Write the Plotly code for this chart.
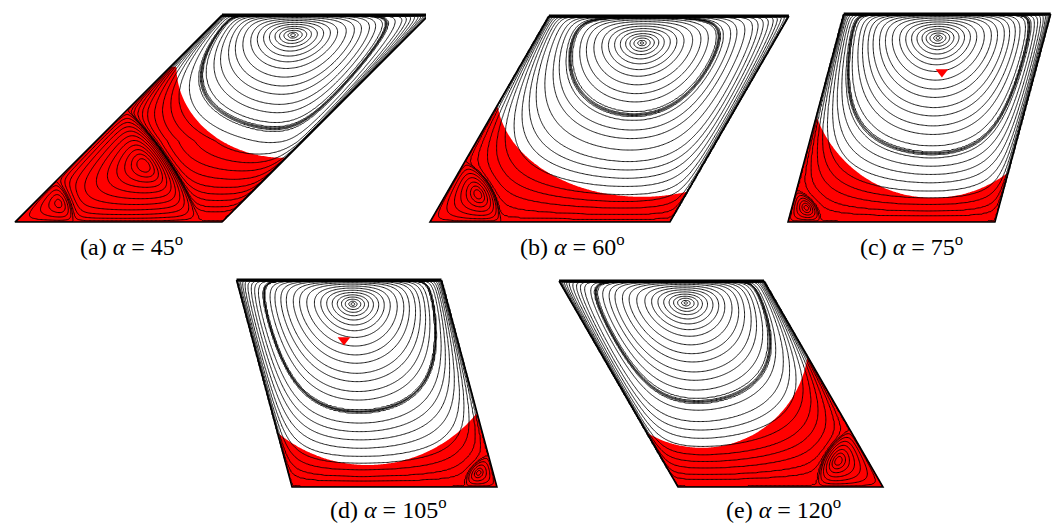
import numpy as np
import plotly.graph_objects as go

FIG_W, FIG_H = 1057, 523

# ---- cavity geometry -------------------------------------------------------
angles = [45, 60, 75, 105, 120]          # inclination of the side walls (deg)
captions = ["(a)", "(b)", "(c)", "(d)", "(e)"]
aspect = [1.0, 1.165, 0.995, 0.99, 0.995]  # cavity width / cavity height

# ---- primary vortex ----------------------------------------------------------
# centre: fraction of the width along the skewed axis, fraction of the height
primary_s = [0.44, 0.453, 0.486, 0.537, 0.557]
primary_t = [0.903, 0.869, 0.885, 0.884, 0.893]
# depth below the primary centre (fraction of height) where each drawn
# streamline crosses the vertical through the centre
streamline_depths = [0.005, 0.013, 0.026, 0.04, 0.056, 0.077, 0.101, 0.129,
                     0.161, 0.203, 0.246, 0.286, 0.335, 0.375, 0.423, 0.464,
                     0.52, 0.576, 0.617, 0.657, 0.697, 0.737, 0.770, 0.802,
                     0.834, 0.858]
# depth of the tight bundle of streamlines in each cavity
bundle_depth = [0.45, 0.35, 0.555, 0.52, 0.48]

# ---- corner eddies -------------------------------------------------------------
# separating circle of the secondary eddy (centre x, centre y, radius),
# in cavity-height units measured from the bottom-left corner
eddy_x = [-0.54, 0.0, 0.0, 0.99, 0.995]
eddy_y = [-0.55, 0.0, 0.0, 0.0, 0.0]
eddy_r = [1.536, 0.34, 0.155, 0.155, 0.32]
# streamline values inside each secondary eddy (fraction of its strength)
eddy_levels = [
    [0.03, 0.1, 0.2, 0.32, 0.45, 0.58, 0.7, 0.8, 0.88, 0.94, 0.98],
    [0.05, 0.2, 0.4, 0.6, 0.78, 0.9, 0.97],
    [0.05, 0.25, 0.5, 0.72, 0.88, 0.97],
    [0.08, 0.35, 0.65, 0.88, 0.97],
    [0.05, 0.2, 0.4, 0.6, 0.78, 0.9, 0.97],
]
# tertiary eddy nested in the corner
inner_eddy_x = [0.0, 0.0, 0.0, 0.0, 0.0]
inner_eddy_y = [0.0, 0.0, 0.0, 0.0, 0.0]
inner_eddy_r = [0.28, 0.0, 0.0, 0.0, 0.0]
inner_eddy_levels = [0.15, 0.45, 0.75, 0.95]

# ---- dyed fluid -----------------------------------------------------------------
# red region: below the centre of, and outside, an ellipse
dye_x = [1.30, 1.029, 0.697, 0.365, 0.115]
dye_y = [0.75, 0.617, 0.712, 0.787, 0.709]
dye_rx = [0.52, 0.704, 0.596, 0.681, 0.519]
dye_ry = [0.44, 0.495, 0.596, 0.681, 0.519]
# small dyed patch near the core
spot_x = [None, None, 0.740, 0.251, None]
spot_y = [None, None, 0.721, 0.710, None]

# ---- placement on the page (pixels) -------------------------------------------------
panel_origin = [(15, 222), (430, 222), (788, 222), (292, 487), (678, 487)]
panel_height = [207, 206, 208, 207, 206]
caption_pos = [(131, 245), (572, 245), (911, 245), (388, 508), (783, 508)]
PAD = 4

RES = 160          # grid points per cavity height
LID_EXP = 0.5
SIDE_EXP = 4.5
KAPPA = 0.8
SEP_W = 0.06
INNER_W = 0.04


def cavity_fields(i):
    cot = 1.0 / np.tan(np.radians(angles[i]))
    wr = aspect[i]
    xmin, xmax = min(0.0, cot), max(wr, wr + cot)
    nx = int(round((xmax - xmin) * RES)) + 1
    xs = np.linspace(xmin, xmax, nx)
    ys = np.linspace(0.0, 1.0, RES + 1)
    X, Y = np.meshgrid(xs, ys)
    s = (X - Y * cot) / wr
    inside = (s >= 0.0) & (s <= 1.0)
    s = np.clip(s, 0.0, 1.0)
    t = Y

    tc = primary_t[i]
    m = LID_EXP * tc / (1.0 - tc)

    def g(tt):
        return (tt / tc) ** m * ((1.0 - tt) / (1.0 - tc)) ** LID_EXP

    p = np.clip(primary_s[i] + KAPPA * (tc - t) * cot / wr, 0.15, 0.85)
    f = (s / p) ** (SIDE_EXP * p) * ((1.0 - s) / (1.0 - p)) ** (SIDE_EXP * (1.0 - p))
    P = f * g(t)

    phi2 = np.tanh((np.hypot(X - eddy_x[i], Y - eddy_y[i]) - eddy_r[i]) / SEP_W)
    d3 = np.hypot(X - inner_eddy_x[i], Y - inner_eddy_y[i])
    if inner_eddy_r[i] > 0:
        phi3 = np.tanh((d3 - inner_eddy_r[i]) / INNER_W)
    else:
        phi3 = np.ones_like(X)
    Q = s * (1 - s) * t * (1 - t)

    prim = phi2 > 0
    tert = (~prim) & (d3 < inner_eddy_r[i])
    sec = (~prim) & (~tert)
    psi = np.where(prim, P * phi2, Q * phi2 * phi3)
    psi = np.where(inside, psi, 0.0)

    # primary streamline values from the crossing depths
    pmax = psi[prim & inside].max()
    depths = set(streamline_depths)
    for dd in (-0.006, -0.002, 0.002, 0.006):
        depths.add(bundle_depth[i] + dd)
    depths = np.array(sorted(d for d in depths if d < tc - 0.01))
    lev_p = np.unique(pmax * g(tc - depths))
    zp = np.interp(psi, np.concatenate([[0.0], lev_p, [pmax * 1.0001]]),
                   np.arange(len(lev_p) + 2))
    n_top = len(lev_p)

    smag = -psi[sec & inside].min()
    lev_s = smag * np.array(eddy_levels[i])
    zs = -np.interp(-psi, np.concatenate([[0.0], lev_s, [smag * 1.0001]]),
                    np.arange(len(lev_s) + 2))
    n_bot = len(lev_s)

    zt = np.zeros_like(psi)
    if np.any(tert & inside):
        tmax = psi[tert & inside].max()
        lev_t = tmax * np.array(inner_eddy_levels)
        zt = np.interp(psi, np.concatenate([[0.0], lev_t, [tmax * 1.0001]]),
                       np.arange(len(lev_t) + 2))
        n_top = max(n_top, len(lev_t))

    Z = np.where(prim, zp, np.where(tert, zt, zs))
    Z = np.where(inside, Z, -0.5)

    # positive inside the dyed region
    ell = ((X - dye_x[i]) / dye_rx[i]) ** 2 + ((Y - dye_y[i]) / dye_ry[i]) ** 2 - 1.0
    R = np.minimum(ell, 4.0 * (dye_y[i] - Y))
    R = np.where(inside, R, -1.0)

    return xs, ys, np.round(Z, 3), np.round(R, 3), n_bot, n_top, cot, xmin, xmax


fig = go.Figure()
layout_axes = {}

for i in range(len(angles)):
    xs, ys, Z, R, n_bot, n_top, cot, xmin, xmax = cavity_fields(i)
    xa = "x" if i == 0 else f"x{i + 1}"
    ya = "y" if i == 0 else f"y{i + 1}"
    wr = aspect[i]

    # constraint contours shade the region that violates "R < 0", i.e. R >= 0
    fig.add_trace(go.Contour(
        x=xs, y=ys, z=R, xaxis=xa, yaxis=ya,
        contours=dict(type="constraint", operation="<", value=0),
        fillcolor="#ff0000", line=dict(width=0),
        showscale=False, hoverinfo="skip"))

    fig.add_trace(go.Contour(
        x=xs, y=ys, z=Z, xaxis=xa, yaxis=ya,
        contours=dict(start=-n_bot, end=n_top, size=1, coloring="none"),
        line=dict(color="black", width=0.9, smoothing=0.8),
        showscale=False, hoverinfo="skip"))

    # walls: bottom and sides, then the lid
    fig.add_trace(go.Scatter(
        x=[cot, 0.0, wr, wr + cot], y=[1.0, 0.0, 0.0, 1.0],
        xaxis=xa, yaxis=ya, mode="lines",
        line=dict(color="black", width=1.6), hoverinfo="skip"))
    fig.add_trace(go.Scatter(
        x=[cot, wr + cot], y=[1.0, 1.0], xaxis=xa, yaxis=ya, mode="lines",
        line=dict(color="black", width=3), hoverinfo="skip"))

    if spot_x[i] is not None:
        fig.add_trace(go.Scatter(
            x=[spot_x[i]], y=[spot_y[i]], xaxis=xa, yaxis=ya, mode="markers",
            marker=dict(symbol="triangle-down", size=11, color="#ff0000",
                        line=dict(width=0)),
            hoverinfo="skip"))

    bx, by = panel_origin[i]
    hp = panel_height[i]
    dom_x = [(bx + xmin * hp - PAD) / FIG_W, (bx + xmax * hp + PAD) / FIG_W]
    dom_y = [(FIG_H - (by + PAD)) / FIG_H, (FIG_H - (by - hp - PAD)) / FIG_H]
    key_x = "xaxis" if i == 0 else f"xaxis{i + 1}"
    key_y = "yaxis" if i == 0 else f"yaxis{i + 1}"
    layout_axes[key_x] = dict(domain=dom_x, range=[xmin - PAD / hp, xmax + PAD / hp],
                              visible=False, fixedrange=True, anchor=ya)
    layout_axes[key_y] = dict(domain=dom_y, range=[-PAD / hp, 1 + PAD / hp],
                              visible=False, fixedrange=True, anchor=xa)

annotations = []
for i in range(len(angles)):
    cx, cy = caption_pos[i]
    annotations.append(dict(
        x=cx / FIG_W, y=1 - cy / FIG_H, xref="paper", yref="paper",
        xanchor="center", yanchor="middle", showarrow=False,
        text=f"{captions[i]} <i>α</i> = {angles[i]}<sup>o</sup>",
        font=dict(family="Liberation Serif, Times New Roman, serif", size=24,
                  color="black")))

fig.update_layout(
    width=FIG_W, height=FIG_H,
    margin=dict(l=0, r=0, t=0, b=0),
    paper_bgcolor="white", plot_bgcolor="white",
    showlegend=False,
    annotations=annotations,
    **layout_axes)

fig.write_html("out.html")
